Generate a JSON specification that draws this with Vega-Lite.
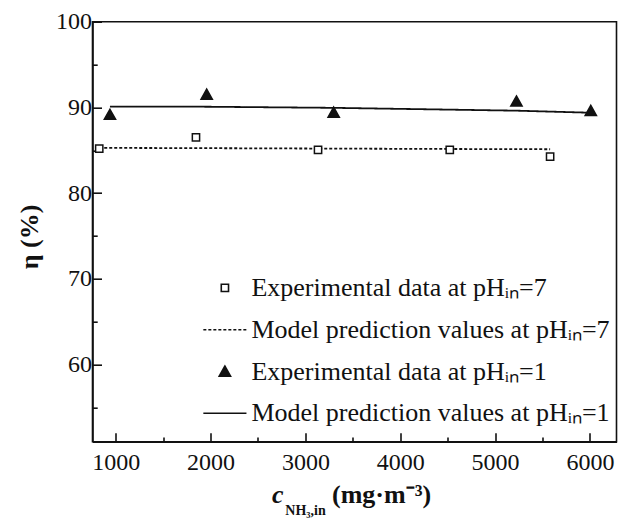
{
  "$schema": "https://vega.github.io/schema/vega-lite/v6.json",
  "autosize": "none",
  "width": 524,
  "height": 420,
  "padding": {"left": 92.5, "top": 21.7, "right": 6.5, "bottom": 76.3},
  "background": "white",
  "config": {
    "font": "Liberation Serif",
    "view": {"stroke": "#111", "strokeWidth": 1.6},
    "axis": {"grid": false, "ticks": true, "domainColor": "#111", "domainWidth": 1.6, "tickColor": "#111", "tickWidth": 1.6, "labelColor": "#111", "titleColor": "#111", "labelFont": "Liberation Serif", "titleFont": "Liberation Serif"},
    "legend": {
      "orient": "none", "legendX": 111.4, "legendY": 245.2, "title": null,
      "padding": 0, "symbolOffset": 0, "labelOffset": 5.5, "rowPadding": 7.8,
      "symbolSize": 1624, "symbolStrokeWidth": 1.6, "symbolStrokeColor": "#111",
      "labelFont": "Liberation Serif", "labelFontSize": 26, "labelColor": "#111", "labelLimit": 600
    }
  },
  "data": {
    "values": [
      {"series": "exp7", "conc": 826, "eta": 85.2},
      {"series": "exp7", "conc": 1846, "eta": 86.5},
      {"series": "exp7", "conc": 3133, "eta": 85.05},
      {"series": "exp7", "conc": 4522, "eta": 85.05},
      {"series": "exp7", "conc": 5580, "eta": 84.25},
      {"series": "exp1", "conc": 939, "eta": 89.15},
      {"series": "exp1", "conc": 1959, "eta": 91.5},
      {"series": "exp1", "conc": 3298, "eta": 89.4},
      {"series": "exp1", "conc": 5225, "eta": 90.7},
      {"series": "exp1", "conc": 6009, "eta": 89.6},
      {"series": "mod7", "conc": 826, "eta": 85.28},
      {"series": "mod7", "conc": 1846, "eta": 85.25},
      {"series": "mod7", "conc": 3133, "eta": 85.2},
      {"series": "mod7", "conc": 4522, "eta": 85.15},
      {"series": "mod7", "conc": 5580, "eta": 85.12},
      {"series": "mod1", "conc": 939, "eta": 90.1},
      {"series": "mod1", "conc": 1959, "eta": 90.08},
      {"series": "mod1", "conc": 3298, "eta": 89.95},
      {"series": "mod1", "conc": 5225, "eta": 89.62},
      {"series": "mod1", "conc": 6009, "eta": 89.38}
    ]
  },
  "resolve": {"axis": {"x": "independent", "y": "independent"}},
  "layer": [
    {
      "transform": [{"filter": "datum.series === 'mod7' || datum.series === 'mod1'"}],
      "mark": {"type": "line", "color": "#111", "strokeWidth": 1.8},
      "encoding": {
        "x": {
          "field": "conc", "type": "quantitative",
          "scale": {"domain": [755, 6280], "nice": false, "zero": false},
          "axis": {"orient": "bottom", "values": [1500, 2500, 3500, 4500, 5500], "labels": false, "domain": false, "tickSize": -4.7,
            "title": "c", "titleFont": "Liberation Serif", "titleFontSize": 26, "titleFontWeight": "bold", "titleFontStyle": "italic",
            "titleX": 179, "titleY": 61, "titleAlign": "left", "titleBaseline": "alphabetic"}
        },
        "y": {
          "field": "eta", "type": "quantitative",
          "scale": {"domain": [51, 100], "nice": false, "zero": false},
          "axis": {"orient": "left", "values": [55, 65, 75, 85, 95], "labels": false, "domain": false, "tickSize": -4.7,
            "title": "NH₃,in", "titleFont": "Liberation Serif", "titleFontSize": 14, "titleFontWeight": "bold", "titleAngle": 0,
            "titleX": 192.3, "titleY": 493, "titleAlign": "left", "titleBaseline": "alphabetic"}
        },
        "detail": {"field": "series"},
        "strokeDash": {
          "field": "series", "type": "nominal",
          "scale": {"domain": ["exp7", "mod7", "exp1", "mod1"], "range": [[1, 0], [3, 2], [1, 0], [1, 0]]},
          "legend": {
            "labelExpr": "datum.value === 'exp7' ? 'Experimental data at pHᵢₙ=7' : datum.value === 'mod7' ? 'Model prediction values at pHᵢₙ=7' : datum.value === 'exp1' ? 'Experimental data at pHᵢₙ=1' : 'Model prediction values at pHᵢₙ=1'",
            "encode": {"symbols": {"update": {"stroke": {"value": "#111"}, "strokeWidth": {"value": 1.6}, "opacity": {"value": 1}}}}
          }
        }
      }
    },
    {
      "transform": [{"filter": "datum.series === 'exp7' || datum.series === 'exp1'"}],
      "mark": {"type": "point", "filled": true, "size": 1624, "stroke": "#111", "strokeWidth": 1.5, "opacity": 1},
      "encoding": {
        "x": {
          "field": "conc", "type": "quantitative",
          "scale": {"domain": [755, 6280], "nice": false, "zero": false},
          "axis": {"orient": "bottom", "values": [1000, 2000, 3000, 4000, 5000, 6000], "format": "d",
            "labelFont": "Liberation Serif", "labelFontSize": 24, "labelPadding": 17.5, "tickSize": -9,
            "title": "(mg·m⁻³)", "titleFont": "Liberation Serif", "titleFontSize": 26, "titleFontWeight": "bold",
            "titleX": 239, "titleY": 61, "titleAlign": "left", "titleBaseline": "alphabetic"}
        },
        "y": {
          "field": "eta", "type": "quantitative",
          "scale": {"domain": [51, 100], "nice": false, "zero": false},
          "axis": {"orient": "left", "values": [60, 70, 80, 90, 100],
            "labelFont": "Liberation Serif", "labelFontSize": 24, "labelPadding": 10, "tickSize": -9,
            "title": "η (%)", "titleFont": "Liberation Serif", "titleFontSize": 26, "titleFontWeight": "bold", "titleAngle": -90,
            "titleX": -62.7, "titleY": 214.8, "titleAlign": "center", "titleBaseline": "middle"}
        },
        "shape": {
          "field": "series", "type": "nominal",
          "scale": {
            "domain": ["exp7", "mod7", "exp1", "mod1"],
            "range": ["M-0.18,-0.18H0.18V0.18H-0.18Z", "M-1.07,0H1.07", "M0,-0.27L0.28,0.23L-0.28,0.23Z", "M-1.07,0H1.07"]
          },
          "legend": {
            "labelExpr": "datum.value === 'exp7' ? 'Experimental data at pHᵢₙ=7' : datum.value === 'mod7' ? 'Model prediction values at pHᵢₙ=7' : datum.value === 'exp1' ? 'Experimental data at pHᵢₙ=1' : 'Model prediction values at pHᵢₙ=1'",
            "encode": {"symbols": {"update": {"stroke": {"value": "#111"}, "strokeWidth": {"value": 1.6}, "opacity": {"value": 1}}}}
          }
        },
        "fill": {
          "field": "series", "type": "nominal",
          "scale": {"domain": ["exp7", "mod7", "exp1", "mod1"], "range": ["white", "transparent", "#111", "transparent"]},
          "legend": {
            "labelExpr": "datum.value === 'exp7' ? 'Experimental data at pHᵢₙ=7' : datum.value === 'mod7' ? 'Model prediction values at pHᵢₙ=7' : datum.value === 'exp1' ? 'Experimental data at pHᵢₙ=1' : 'Model prediction values at pHᵢₙ=1'",
            "encode": {"symbols": {"update": {"stroke": {"value": "#111"}, "strokeWidth": {"value": 1.6}, "opacity": {"value": 1}}}}
          }
        }
      }
    }
  ]
}
